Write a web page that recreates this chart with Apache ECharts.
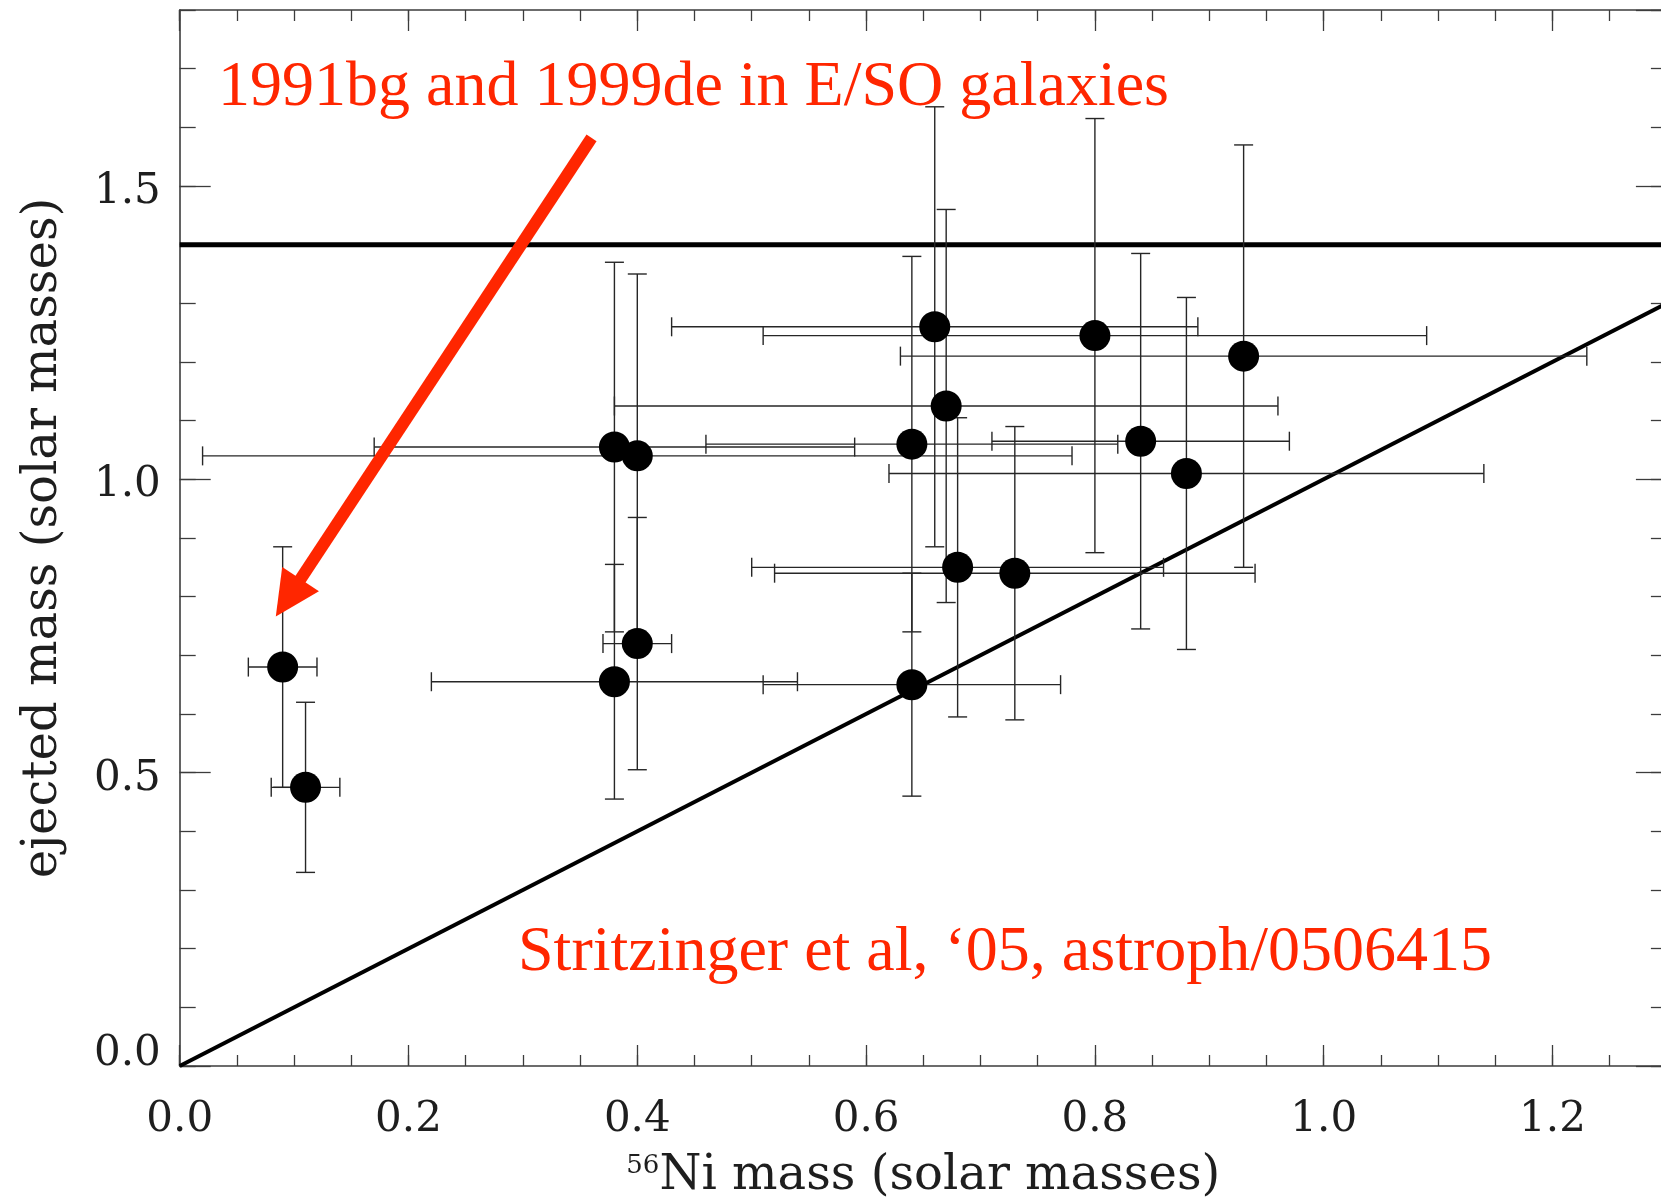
<!DOCTYPE html>
<html>
<head>
<meta charset="utf-8">
<title>Ejected mass vs 56Ni mass</title>
<script src="https://cdn.jsdelivr.net/npm/echarts@6/dist/echarts.min.js"></script>
<style>
  html, body { margin: 0; padding: 0; background: #ffffff; }
  #chart { width: 1661px; height: 1202px; }
</style>
</head>
<body>
<div id="chart"></div>
<script>
// Type Ia supernovae: 56Ni mass vs ejected mass (solar masses), with 1-sigma errors
const niMass        = [0.09, 0.11, 0.38, 0.40, 0.38, 0.40, 0.64, 0.64, 0.66, 0.67, 0.68, 0.73, 0.80, 0.84, 0.88, 0.93];
const niMassErr     = [0.03, 0.03, 0.21, 0.38, 0.16, 0.03, 0.18, 0.13, 0.23, 0.29, 0.18, 0.21, 0.29, 0.13, 0.26, 0.30];
const ejectedMass   = [0.68, 0.475, 1.055, 1.04, 0.655, 0.72, 1.06, 0.65, 1.26, 1.125, 0.85, 0.84, 1.245, 1.065, 1.01, 1.21];
const ejectedErr    = [0.205, 0.145, 0.315, 0.31, 0.20, 0.215, 0.32, 0.19, 0.375, 0.335, 0.255, 0.25, 0.37, 0.32, 0.30, 0.36];

// Chandrasekhar mass and the M_ej = M_Ni limit
const chandrasekharMass = 1.4;
const xRange = [0, 1.3];
const yRange = [0, 1.8];

// Annotation arrow pointing at the 1991bg / 1999de points (data units)
const arrowFrom = [0.360, 1.582];
const arrowTo   = [0.084, 0.766];

const RED = '#ff2600';
const AXIS_COLOR = '#3c3c3c';
const TEXT_COLOR = '#1e1e1e';
const AXIS_FONT = 'DejaVu Serif';
const CAP = 9.5;

const points = niMass.map((x, i) => [x, ejectedMass[i]]);
const errRows = niMass.map((x, i) => [x, ejectedMass[i], niMassErr[i], ejectedErr[i]]);

function axisBase(extra) {
  return Object.assign({
    type: 'value',
    splitLine: { show: false },
    axisLine: { show: false, onZero: false },
    axisLabel: { show: false },
    axisTick: { show: true, inside: true, lineStyle: { color: AXIS_COLOR, width: 1.3 } }
  }, extra);
}

const chart = echarts.init(document.getElementById('chart'), null, { renderer: 'canvas' });

chart.setOption({
  animation: false,
  backgroundColor: '#ffffff',
  grid: {
    left: 179.7, top: 10, width: 1487.2, height: 1056,
    containLabel: false, outerBoundsMode: 'none'
  },
  xAxis: [
    axisBase({
      position: 'bottom', min: xRange[0], max: xRange[1], interval: 0.2,
      axisLine: { show: true, onZero: false, lineStyle: { color: AXIS_COLOR, width: 1.6 } },
      axisTick: { show: true, inside: true, length: 21, lineStyle: { color: AXIS_COLOR, width: 1.3 } },
      axisLabel: {
        show: true, margin: 33, showMaxLabel: false,
        fontFamily: AXIS_FONT, fontSize: 42, color: TEXT_COLOR,
        formatter: v => v.toFixed(1)
      },
      name: '{sup|56}{main|Ni mass (solar masses)}',
      nameLocation: 'middle', nameGap: 87,
      nameTextStyle: {
        rich: {
          sup: { fontFamily: AXIS_FONT, fontSize: 26, lineHeight: 14, color: TEXT_COLOR, verticalAlign: 'top' },
          main: { fontFamily: AXIS_FONT, fontSize: 48, lineHeight: 48, color: TEXT_COLOR }
        }
      }
    }),
    axisBase({ position: 'bottom', min: xRange[0], max: xRange[1], interval: 0.05,
      axisTick: { show: true, inside: true, length: 11, lineStyle: { color: AXIS_COLOR, width: 1.3 } } }),
    axisBase({ position: 'top', min: xRange[0], max: xRange[1], interval: 0.2,
      axisLine: { show: true, onZero: false, lineStyle: { color: AXIS_COLOR, width: 1.6 } },
      axisTick: { show: true, inside: true, length: 21, lineStyle: { color: AXIS_COLOR, width: 1.3 } } }),
    axisBase({ position: 'top', min: xRange[0], max: xRange[1], interval: 0.05,
      axisTick: { show: true, inside: true, length: 11, lineStyle: { color: AXIS_COLOR, width: 1.3 } } })
  ],
  yAxis: [
    axisBase({
      position: 'left', min: yRange[0], max: yRange[1], interval: 0.5,
      axisLine: { show: true, onZero: false, lineStyle: { color: AXIS_COLOR, width: 1.6 } },
      axisTick: { show: true, inside: true, length: 31, lineStyle: { color: AXIS_COLOR, width: 1.3 } },
      axisLabel: {
        show: true, margin: 19, showMaxLabel: false,
        formatter: v => (v === 0 ? '{base|0.0}' : '{std|' + v.toFixed(1) + '}'),
        rich: {
          std:  { fontFamily: AXIS_FONT, fontSize: 42, color: TEXT_COLOR, padding: [12, 0, 0, 0] },
          base: { fontFamily: AXIS_FONT, fontSize: 42, color: TEXT_COLOR, padding: [0, 0, 24, 0] }
        }
      },
      name: 'ejected mass (solar masses)',
      nameLocation: 'middle', nameGap: 112,
      nameTextStyle: { fontFamily: AXIS_FONT, fontSize: 48, color: TEXT_COLOR, padding: [0, 0, 0, 0] }
    }),
    axisBase({ position: 'left', min: yRange[0], max: yRange[1], interval: 0.1,
      axisTick: { show: true, inside: true, length: 16, lineStyle: { color: AXIS_COLOR, width: 1.3 } } }),
    axisBase({ position: 'right', min: yRange[0], max: yRange[1], interval: 0.5,
      axisLine: { show: true, onZero: false, lineStyle: { color: AXIS_COLOR, width: 1.6 } },
      axisTick: { show: true, inside: true, length: 31, lineStyle: { color: AXIS_COLOR, width: 1.3 } } }),
    axisBase({ position: 'right', min: yRange[0], max: yRange[1], interval: 0.1,
      axisTick: { show: true, inside: true, length: 16, lineStyle: { color: AXIS_COLOR, width: 1.3 } } })
  ],
  series: [
    {
      name: 'Chandrasekhar mass',
      type: 'line', xAxisIndex: 0, yAxisIndex: 0,
      data: [[xRange[0], chandrasekharMass], [xRange[1], chandrasekharMass]],
      symbol: 'none', silent: true, z: 2,
      lineStyle: { color: '#000000', width: 5 }
    },
    {
      name: 'M_ej = M_Ni',
      type: 'line', xAxisIndex: 0, yAxisIndex: 0,
      data: [[xRange[0], xRange[0]], [xRange[1], xRange[1]]],
      symbol: 'none', silent: true, z: 2,
      lineStyle: { color: '#000000', width: 4 }
    },
    {
      name: 'errors',
      type: 'custom', xAxisIndex: 0, yAxisIndex: 0, z: 3,
      data: errRows,
      encode: { x: 0, y: 1 },
      renderItem: function (params, api) {
        const x = api.value(0), y = api.value(1), ex = api.value(2), ey = api.value(3);
        const l = api.coord([x - ex, y]), r = api.coord([x + ex, y]);
        const t = api.coord([x, y + ey]), b = api.coord([x, y - ey]);
        const style = { stroke: '#262626', lineWidth: 1.4 };
        const seg = (x1, y1, x2, y2) => ({ type: 'line', shape: { x1, y1, x2, y2 }, style });
        return {
          type: 'group',
          children: [
            seg(l[0], l[1], r[0], r[1]),
            seg(l[0], l[1] - CAP, l[0], l[1] + CAP),
            seg(r[0], r[1] - CAP, r[0], r[1] + CAP),
            seg(t[0], t[1], b[0], b[1]),
            seg(t[0] - CAP, t[1], t[0] + CAP, t[1]),
            seg(b[0] - CAP, b[1], b[0] + CAP, b[1])
          ]
        };
      }
    },
    {
      name: 'SNe Ia',
      type: 'scatter', xAxisIndex: 0, yAxisIndex: 0, z: 4,
      data: points,
      symbol: 'circle', symbolSize: 31,
      itemStyle: { color: '#000000', opacity: 1 }
    },
    {
      name: 'arrow',
      type: 'custom', xAxisIndex: 0, yAxisIndex: 0, z: 6, silent: true,
      data: [[arrowFrom[0], arrowFrom[1], arrowTo[0], arrowTo[1]]],
      encode: { x: [0, 2], y: [1, 3] },
      renderItem: function (params, api) {
        const p0 = api.coord([api.value(0), api.value(1)]);
        const p1 = api.coord([api.value(2), api.value(3)]);
        const dx = p1[0] - p0[0], dy = p1[1] - p0[1];
        const len = Math.hypot(dx, dy);
        const ux = dx / len, uy = dy / len;
        const headLen = 45, headHalf = 22;
        const bx = p1[0] - ux * headLen, by = p1[1] - uy * headLen;
        const nx = -uy, ny = ux;
        return {
          type: 'group',
          children: [
            { type: 'line', shape: { x1: p0[0], y1: p0[1], x2: bx + ux * 4, y2: by + uy * 4 },
              style: { stroke: RED, lineWidth: 12 } },
            { type: 'polygon',
              shape: { points: [[p1[0], p1[1]], [bx + nx * headHalf, by + ny * headHalf], [bx - nx * headHalf, by - ny * headHalf]] },
              style: { fill: RED } }
          ]
        };
      }
    }
  ],
  graphic: [
    {
      type: 'text', left: 218, top: 88.5 - 32, z: 10, silent: true,
      style: { text: '1991bg and 1999de in E/SO galaxies', fill: RED,
               font: '64px "Liberation Serif"', verticalAlign: 'top' }
    },
    {
      type: 'text', left: 518, top: 953 - 32, z: 10, silent: true,
      style: { text: 'Stritzinger et al, \u201805, astroph/0506415', fill: RED,
               font: '64px "Liberation Serif"', verticalAlign: 'top' }
    }
  ]
});
</script>
</body>
</html>
